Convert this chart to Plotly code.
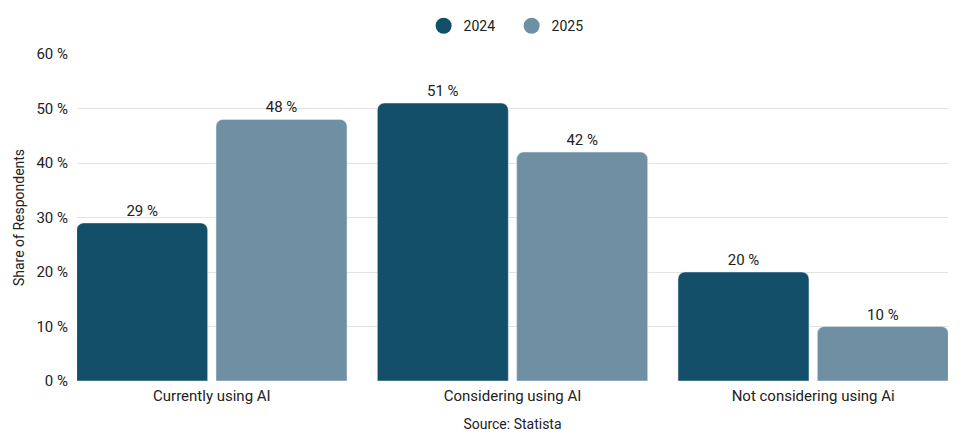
import plotly.graph_objects as go

categories = ["Currently using AI", "Considering using AI", "Not considering using Ai"]
years = ["2024", "2025"]
share_2024 = [29, 51, 20]
share_2025 = [48, 42, 10]
y_ticks = [0, 10, 20, 30, 40, 50, 60]

dark_blue = "#134f69"
grey_blue = "#6f8fa2"
font_name = "Roboto"

x_pos = list(range(len(categories)))
gap = 0.073
trim = 0.0515  # trims the empty space before the first / after the last bar

fig = go.Figure()
for name, vals, col in [(years[0], share_2024, dark_blue), (years[1], share_2025, grey_blue)]:
    fig.add_trace(go.Bar(
        x=x_pos, y=vals, name=name, marker_color=col, showlegend=False,
        text=[F"{v} %" for v in vals], textposition="outside", cliponaxis=False,
        textfont=dict(size=15, color="#222222", family=font_name),
        hovertemplate="%{y} %<extra>" + name + "</extra>",
    ))
    # round legend markers
    fig.add_trace(go.Scatter(
        x=[None], y=[None], mode="markers", name=name,
        marker=dict(symbol="circle", size=16, color=col),
    ))

# page body adds 8px around the figure, so size/margins allow for that
fig.update_layout(
    width=952, height=432,
    barmode="group", bargap=gap, bargroupgap=0.06, barcornerradius=7,
    plot_bgcolor="white", paper_bgcolor="white",
    font=dict(family=font_name, size=15, color="#222222"),
    margin=dict(l=69, r=12, t=46, b=59),
    legend=dict(orientation="h", x=0.529, xanchor="center", xref="container",
                y=0.958, yanchor="middle", yref="container",
                font=dict(size=14), entrywidth=43, itemwidth=30),
    xaxis=dict(
        range=[-0.5 + trim, len(categories) - 0.5 - trim],
        tickvals=x_pos, ticktext=categories, showgrid=False, zeroline=False,
        showline=False, ticks="", automargin=False, ticklabelstandoff=4,
        title=dict(text="Source: Statista", font=dict(size=14), standoff=15),
    ),
    yaxis=dict(
        range=[0, 60], tickvals=y_ticks, ticktext=[F"{t} %" for t in y_ticks],
        gridcolor="#e3e3e3", zeroline=False, showline=False, ticks="",
        automargin=False, ticklabelstandoff=8,
        title=dict(text="Share of Respondents", font=dict(size=14), standoff=8),
    ),
)

fig.write_html("out.html")
